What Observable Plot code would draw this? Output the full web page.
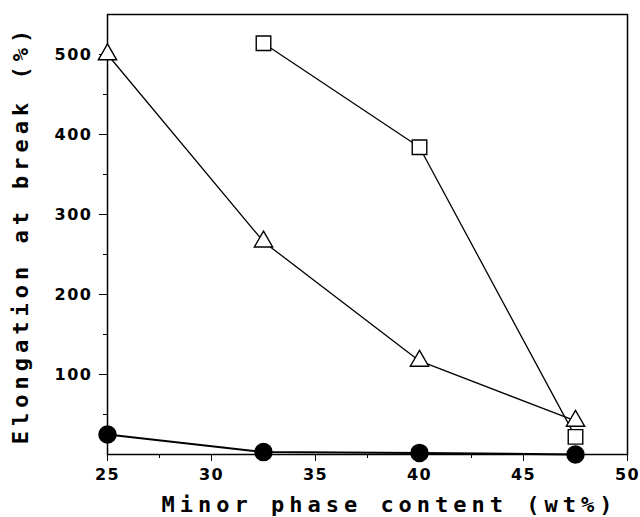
<!DOCTYPE html>
<html>
<head>
<meta charset="utf-8">
<script src="https://cdn.jsdelivr.net/npm/d3@7"></script>
<script src="https://cdn.jsdelivr.net/npm/@observablehq/plot@0.6"></script>
<style>
  html, body { margin: 0; padding: 0; background: #fff; }
  svg g[aria-label="x-axis label"] text, svg g[aria-label="y-axis label"] text { letter-spacing: 5px; }
  svg g[aria-label="x-axis tick label"] text, svg g[aria-label="y-axis tick label"] text { letter-spacing: 1.5px; }
</style>
</head>
<body>
<div id="chart"></div>
<script>
const content = [25, 32.5, 40, 47.5];
const triangleSeries = [500, 266, 117, 42];
const squareSeries = [null, 514, 384, 22];
const circleSeries = [25, 3, 2, 0];
const xMajorTicks = [25, 30, 35, 40, 45, 50];
const xMinorTicks = [27.5, 32.5, 37.5, 42.5, 47.5];
const yMajorTicks = [100, 200, 300, 400, 500];
const yMinorTicks = [50, 150, 250, 350, 450];

const rows = (vals) => content.map((x, i) => ({x, y: vals[i]})).filter(d => d.y != null);
const tri = rows(triangleSeries), sq = rows(squareSeries), circ = rows(circleSeries);

const chart = Plot.plot({
  width: 640,
  height: 517,
  marginLeft: 107,
  marginRight: 13,
  marginTop: 14,
  marginBottom: 63,
  x: {domain: [25, 50]},
  y: {domain: [0, 550]},
  style: {fontFamily: "DejaVu Sans", fontWeight: "bold", fontSize: "16px", color: "#000", background: "#fff"},
  marks: [
    Plot.frame({stroke: "#000", strokeWidth: 1.5}),
    Plot.axisX({ticks: xMajorTicks, tickSize: 7, tickPadding: 7, tickFormat: d => String(d), fontSize: 16, fontWeight: "bold",
      label: "Minor phase content (wt%)", labelAnchor: "center", labelArrow: "none", labelOffset: 57}),
    Plot.axisX({ticks: xMinorTicks, tickSize: 4, tickFormat: null, label: null, text: null}),
    Plot.axisY({ticks: yMajorTicks, tickSize: 8, tickPadding: 7, tickFormat: d => String(d), fontSize: 16, fontWeight: "bold",
      label: "Elongation at break (%)", labelAnchor: "center", labelArrow: "none", labelOffset: 95}),
    Plot.axisY({ticks: yMinorTicks, tickSize: 4, tickFormat: null, label: null, text: null}),
    Plot.line(circ, {x: "x", y: "y", stroke: "#000", strokeWidth: 2}),
    Plot.line(tri, {x: "x", y: "y", stroke: "#000", strokeWidth: 1.3}),
    Plot.line(sq, {x: "x", y: "y", stroke: "#000", strokeWidth: 1.3}),
    Plot.dot(tri, {x: "x", y: "y", symbol: "triangle", r: 6.8, fill: "#fff", stroke: "#000", strokeWidth: 1.4}),
    Plot.dot(sq, {x: "x", y: "y", symbol: "square", r: 8.2, fill: "#fff", stroke: "#000", strokeWidth: 1.4}),
    Plot.dot(circ, {x: "x", y: "y", symbol: "circle", r: 8.5, fill: "#000", stroke: "#000"})
  ]
});
document.getElementById("chart").appendChild(chart);
d3.select(chart).selectAll('g[aria-label="x-axis label"] text, g[aria-label="y-axis label"] text')
  .attr("font-family", "DejaVu Sans Mono").attr("font-size", 22);
d3.select(chart).selectAll('g[aria-label="x-axis label"] text').attr("dx", 22);
</script>
</body>
</html>
